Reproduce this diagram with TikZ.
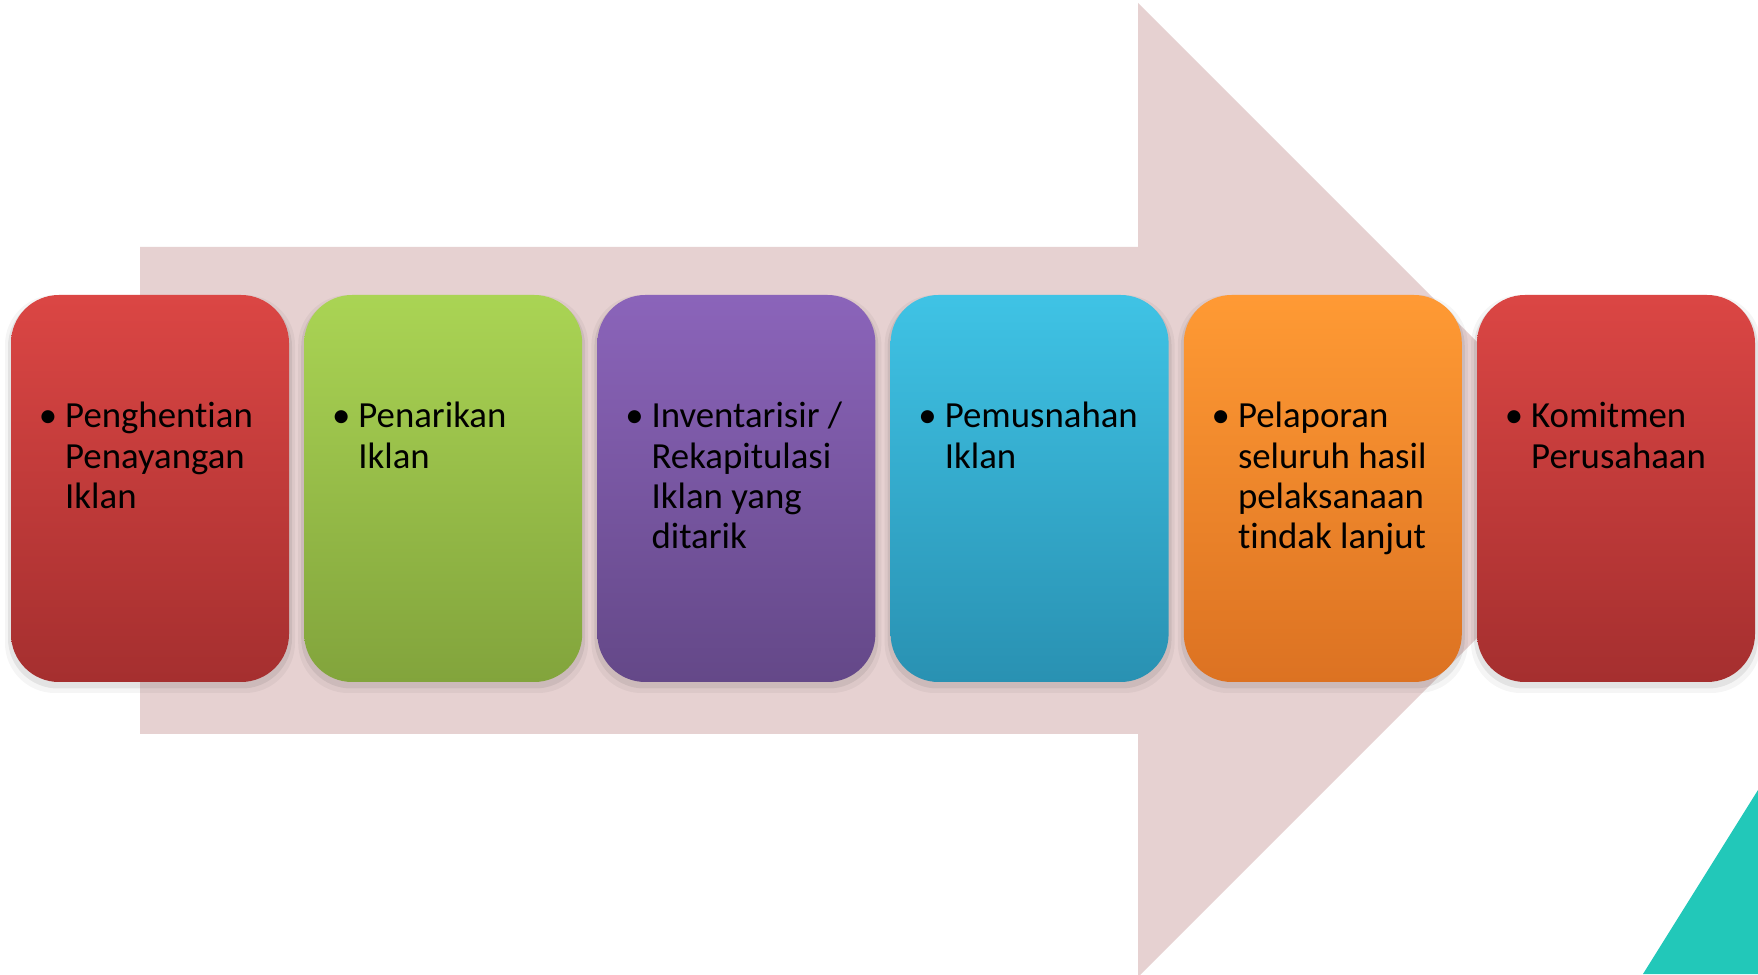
\documentclass[tikz,border=0pt]{standalone}
\usepackage{fontspec}
\setmainfont{Carlito}[Ligatures=NoCommon]
\definecolor{arrowc}{HTML}{E6D1D1}
\definecolor{tealc}{HTML}{22C8B9}
\definecolor{redT}{HTML}{DB4644}
\definecolor{redB}{HTML}{A52F2F}
\definecolor{grnT}{HTML}{AAD454}
\definecolor{grnB}{HTML}{82A43C}
\definecolor{purT}{HTML}{8B64BA}
\definecolor{purB}{HTML}{644888}
\definecolor{cyaT}{HTML}{3FC3E5}
\definecolor{cyaB}{HTML}{2991B2}
\definecolor{ornT}{HTML}{FF9A34}
\definecolor{ornB}{HTML}{DC7222}
\newcommand{\btext}[1]{\parbox[t]{240pt}{\raggedright\baselineskip=40.3pt\leavevmode\llap{•\hspace{8pt}}#1}}
\tikzset{
  card/.style={rounded corners=48pt, minimum width=278pt, minimum height=387pt, inner sep=0pt, shading=axis, shading angle=0},
  cardshadow/.style={rounded corners=50pt, fill=black, fill opacity=0.07, minimum width=284pt, minimum height=392pt, inner sep=0pt},
  txt/.style={anchor=base west, inner sep=0pt, font=\fontsize{36.8pt}{40.3pt}\selectfont, text=black}
}
\begin{document}
\begin{tikzpicture}[x=1pt,y=1pt]
\useasboundingbox (0,0) rectangle (1758,974);
\fill[white] (0,0) rectangle (1758,974);
% big arrow
\fill[arrowc] (140,727) -- (1138,727) -- (1138,971) -- (1625,484) -- (1138,-3) -- (1138,240) -- (140,240) -- cycle;
% teal corner
\fill[tealc] (1643,0) -- (1758,184) -- (1758,0) -- cycle;
% shadows
\foreach \i in {0,...,5}{
  \pgfmathsetmacro{\cx}{11+293.2*\i+139}
  \node[cardshadow] (s\i) at (\cx,481.5) {};
  \node[cardshadow, minimum width=290pt, minimum height=398pt, fill opacity=0.04] (ss\i) at (\cx,480) {};
}
% cards
\node[card, top color=redT, bottom color=redB] (b1) at (150,485.5) {};
\node[card, top color=grnT, bottom color=grnB] (b2) at (443.2,485.5) {};
\node[card, top color=purT, bottom color=purB] (b3) at (736.4,485.5) {};
\node[card, top color=cyaT, bottom color=cyaB] (b4) at (1029.6,485.5) {};
\node[card, top color=ornT, bottom color=ornB] (b5) at (1322.8,485.5) {};
\node[card, top color=redT, bottom color=redB] (b6) at (1616,485.5) {};
% texts
\node[txt] (t1) at (65,546) {\btext{Penghentian\\Penayangan\\Iklan}};
\node[txt] (t2) at (358.2,546) {\btext{Penarikan\\Iklan}};
\node[txt] (t3) at (651.4,546) {\btext{Inventarisir /\\Rekapitulasi\\Iklan yang\\ditarik}};
\node[txt] (t4) at (944.6,546) {\btext{Pemusnahan\\Iklan}};
\node[txt] (t5) at (1237.8,546) {\btext{Pelaporan\\seluruh hasil\\pelaksanaan\\tindak lanjut}};
\node[txt] (t6) at (1531,546) {\btext{Komitmen\\Perusahaan}};
\end{tikzpicture}
\end{document}
